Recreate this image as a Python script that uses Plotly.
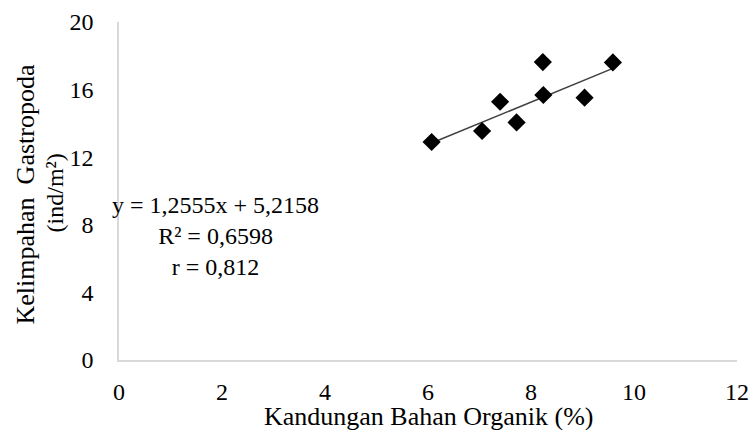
import plotly.graph_objects as go

# Data
bahan_organik = [6.07, 7.05, 7.40, 7.72, 8.23, 8.24, 9.04, 9.59]
kelimpahan = [12.9, 13.55, 15.28, 14.06, 17.63, 15.68, 15.52, 17.61]

slope = 1.2555
intercept = 5.2158
x_ticks = [0, 2, 4, 6, 8, 10, 12]
y_ticks = [0, 4, 8, 12, 16, 20]

font_family = "Liberation Serif, Times New Roman, serif"

x_min, x_max = min(bahan_organik), max(bahan_organik)
trend_x = [x_min, x_max]
trend_y = [slope * v + intercept for v in trend_x]

fig = go.Figure()
fig.add_trace(go.Scatter(
    x=trend_x, y=trend_y, mode="lines",
    line=dict(color="#404040", width=1.5), hoverinfo="skip", showlegend=False,
))
fig.add_trace(go.Scatter(
    x=bahan_organik, y=kelimpahan, mode="markers",
    marker=dict(symbol="diamond", size=14, color="black"), showlegend=False,
))

# Regression equation
fig.add_annotation(
    xref="paper", yref="paper", x=-0.015, y=0.368, xanchor="left", yanchor="middle",
    text="y = 1,2555x + 5,2158<br>R² = 0,6598<br>r = 0,812",
    showarrow=False, align="center",
    font=dict(family=font_family, size=24, color="black"),
)

# Axis titles
fig.add_annotation(
    xref="paper", yref="paper", x=0.5, y=-0.166, xanchor="center", yanchor="middle",
    text="Kandungan Bahan Organik (%)", showarrow=False,
    font=dict(family=font_family, size=26, color="black"),
)
fig.add_annotation(
    xref="paper", yref="paper", x=-0.152, y=0.49, xanchor="center", yanchor="middle",
    text="Kelimpahan  Gastropoda", showarrow=False, textangle=-90,
    font=dict(family=font_family, size=26, color="black"),
)
fig.add_annotation(
    xref="paper", yref="paper", x=-0.104, y=0.495, xanchor="center", yanchor="middle",
    text="(ind/m²)", showarrow=False, textangle=-90,
    font=dict(family=font_family, size=24, color="black"),
)

fig.update_layout(
    width=752, height=430,
    margin=dict(l=119, r=15, t=22, b=70, autoexpand=False),
    paper_bgcolor="white", plot_bgcolor="white",
    font=dict(family=font_family, size=24, color="black"),
    xaxis=dict(
        range=[0, 12], tickvals=x_ticks, showgrid=False, zeroline=False,
        showline=True, linecolor="#d9d9d9", linewidth=1.5,
        ticks="", ticklabelstandoff=9, automargin=False,
        ticklabeloverflow="allow",
    ),
    yaxis=dict(
        range=[0, 20], tickvals=y_ticks, showgrid=False, zeroline=False,
        showline=True, linecolor="#d9d9d9", linewidth=1.5,
        ticks="", ticklabelstandoff=19, automargin=False,
    ),
)

fig.write_html(
    "out.html",
    config={"displayModeBar": False},
    post_script="document.body.style.margin='0';document.body.style.overflow='hidden';",
)
